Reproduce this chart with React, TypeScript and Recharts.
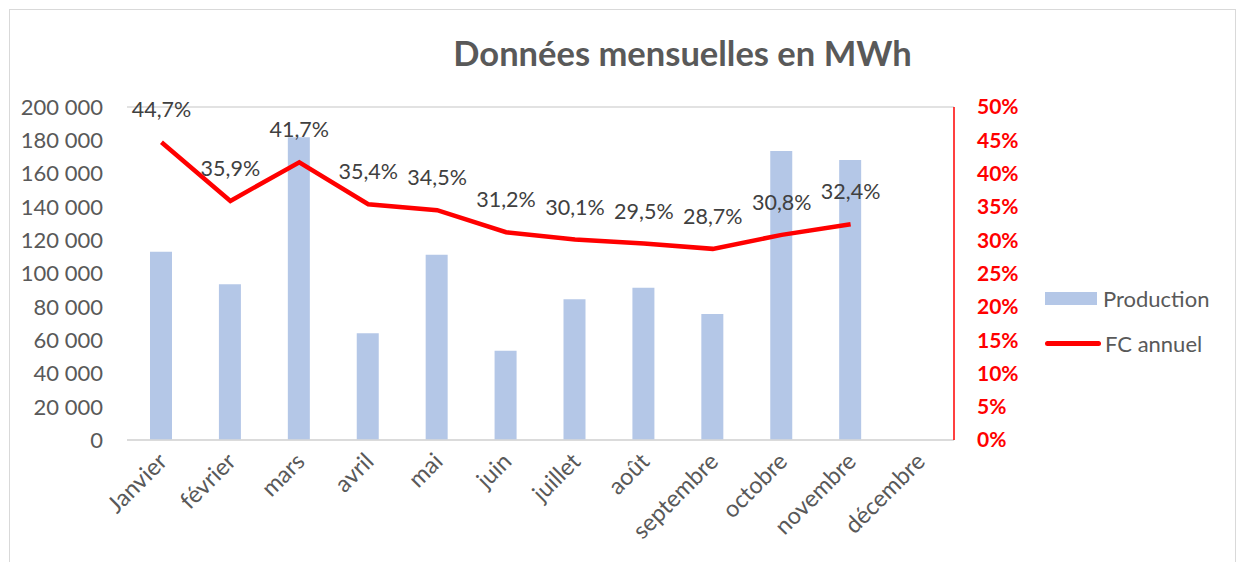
import React from 'react';
import {
  ComposedChart, Bar, Line, XAxis, YAxis, CartesianGrid, Legend, LabelList,
} from 'recharts';

const months = ['Janvier', 'février', 'mars', 'avril', 'mai', 'juin', 'juillet', 'août', 'septembre', 'octobre', 'novembre', 'décembre'];
const production = [113000, 93500, 181800, 64100, 111300, 53600, 84500, 91500, 75700, 173600, 168200, null];
const fcAnnuel = [44.7, 35.9, 41.7, 35.4, 34.5, 31.2, 30.1, 29.5, 28.7, 30.8, 32.4, null];
const leftTicks = [0, 20000, 40000, 60000, 80000, 100000, 120000, 140000, 160000, 180000, 200000];
const rightTicks = [0, 5, 10, 15, 20, 25, 30, 35, 40, 45, 50];

const chartData = months.map((m, i) => ({
  month: m,
  production: production[i],
  fc: fcAnnuel[i],
}));

const FONT = 'Lato, "Open Sans", sans-serif';

const fmtThousands = (v: number) => String(v).replace(/\B(?=(\d{3})+(?!\d))/g, ' ');
const fmtPct = (v: any) => (v == null ? '' : v.toFixed(1).replace('.', ',') + '%');

const MonthTick = ({ x, y, payload }: any) => (
  <g transform={`translate(${x + 7},${y + 15})`}>
    <text
      textAnchor="end"
      transform="rotate(-45)"
      fill="#595959"
      fontSize={23.5}
      fontFamily={FONT}
    >
      {payload.value}
    </text>
  </g>
);

const LegendBox = () => (
  <div style={{ fontFamily: FONT, fontSize: 22, color: '#595959' }}>
    <div style={{ display: 'flex', alignItems: 'center', height: 26 }}>
      <span style={{ display: 'inline-block', width: 52, height: 13, background: '#b4c7e7', marginRight: 6 }} />
      Production
    </div>
    <div style={{ display: 'flex', alignItems: 'center', height: 26, marginTop: 19 }}>
      <span style={{ display: 'inline-block', width: 56, height: 5, borderRadius: 3, background: '#ff0000', marginRight: 4 }} />
      FC annuel
    </div>
  </div>
);

export default function App() {
  return (
    <div style={{ position: 'absolute', left: 0, top: 0, width: 1239, height: 562, background: '#fff', overflow: 'hidden' }}>
      <div style={{ position: 'absolute', left: 9, top: 9, width: 1227, height: 560, border: '1.5px solid #d9d9d9', boxSizing: 'border-box' }} />
      <div
        style={{
          position: 'absolute', left: 0, width: 1239, top: 32, textAlign: 'center', paddingLeft: 126,
          fontFamily: FONT, fontWeight: 700, fontSize: 34.5, color: '#595959', boxSizing: 'border-box',
        }}
      >
        Données mensuelles en MWh
      </div>
      <div style={{ position: 'absolute', left: 0, top: 0 }}>
        <ComposedChart
          width={1239}
          height={562}
          data={chartData}
          margin={{ top: 107, right: 0, bottom: 0, left: 0 }}
          barCategoryGap={0}
        >
          <CartesianGrid vertical={false} stroke="#d9d9d9" strokeWidth={1.3} />
          <XAxis
            dataKey="month"
            height={122}
            interval={0}
            tickLine={false}
            axisLine={{ stroke: '#d9d9d9', strokeWidth: 1.3 }}
            tick={<MonthTick />}
          />
          <YAxis
            yAxisId="left"
            orientation="left"
            width={127}
            domain={[0, 200000]}
            ticks={leftTicks}
            tickFormatter={fmtThousands}
            axisLine={false}
            tickLine={false}
            tickSize={0}
            tickMargin={24}
            tick={{ fill: '#595959', fontSize: 22, fontFamily: FONT }}
          />
          <YAxis
            yAxisId="right"
            orientation="right"
            width={285}
            domain={[0, 50]}
            ticks={rightTicks}
            tickFormatter={(v: number) => `${v}%`}
            axisLine={{ stroke: '#ff0000', strokeWidth: 1.5 }}
            tickLine={false}
            tickSize={0}
            tickMargin={23}
            tick={{ fill: '#ff0000', fontSize: 21, fontWeight: 700, fontFamily: FONT }}
          />
          <Bar
            yAxisId="left"
            dataKey="production"
            name="Production"
            fill="#b4c7e7"
            barSize={22}
            isAnimationActive={false}
          />
          <Line
            yAxisId="right"
            dataKey="fc"
            name="FC annuel"
            type="linear"
            stroke="#ff0000"
            strokeWidth={4.5}
            dot={false}
            activeDot={false}
            isAnimationActive={false}
          >
            <LabelList
              dataKey="fc"
              position="top"
              offset={25}
              formatter={fmtPct}
              style={{ fill: '#404040', fontSize: 21.5, fontFamily: FONT }}
            />
          </Line>
          <Legend
            layout="vertical"
            align="center"
            verticalAlign="middle"
            content={<LegendBox />}
            wrapperStyle={{ position: 'absolute', left: 1045, top: 285, width: 190 }}
          />
        </ComposedChart>
      </div>
    </div>
  );
}
